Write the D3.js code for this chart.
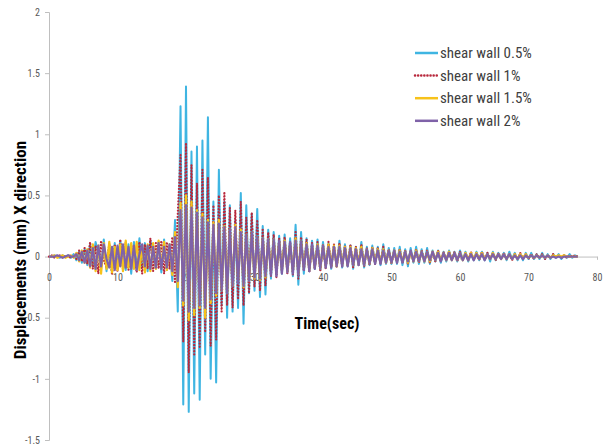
<!DOCTYPE html>
<html>
<head>
<meta charset="utf-8">
<script src="https://cdn.jsdelivr.net/npm/d3@7"></script>
<style>
  body { margin: 0; background: #fff; }
  svg text { font-family: "Liberation Sans Narrow", "Roboto Condensed", "Liberation Sans", sans-serif; }
</style>
</head>
<body>
<div id="chart"></div>
<script>
const width = 605;
const height = 446;

// sampling step of the time histories (sec)
const dt = 0.4;

const seriesNames = ['shear wall 0.5%', 'shear wall 1%', 'shear wall 1.5%', 'shear wall 2%'];
const xTicks = [0, 10, 20, 30, 40, 50, 60, 70, 80];
const yTicks = [-1.5, -1, -0.5, 0, 0.5, 1, 1.5, 2];

// displacement peaks, one value per dt
const wall05 = [
  0,0,0.01,0,-0.01,0.01,0,0.01,-0.01,0.02,
  -0.03,0.04,-0.05,0.06,-0.07,
  0.1,-0.08,0.12,0.03,-0.1,0.14,-0.12,0.09,-0.13,0.11,-0.09,0.13,-0.02,-0.11,0.1,-0.14,0.12,-0.1,0.15,-0.09,0.11,-0.12,0.13,0.02,-0.1,0.12,-0.13,0.14,-0.11,0.1,
  -0.2,0.3,-0.45,
  1.23,-1.21,1.39,-1.27,0.86,-1.12,0.9,-1.17,0.95,-0.8,1.14,-1.0,0.45,-1.03,0.71,-0.4,0.45,-0.5,0.42,-0.45,0.3,-0.42,0.52,-0.55,0.42,-0.3,0.35,-0.28,0.39,-0.33,0.25,-0.31,0.22,
  -0.18,0.2,-0.15,0.17,-0.14,0.18,-0.12,0.15,-0.16,
  0.26,-0.23,0.2,-0.14,0.15,-0.12,0.13,-0.1,0.14,-0.11,
  0.12,-0.09,0.11,-0.1,0.09,-0.08,0.13,-0.09,0.1,-0.08,
  0.09,-0.1,0.08,-0.07,0.12,-0.09,0.08,-0.07,0.09,-0.06,
  0.08,-0.07,0.1,-0.06,0.07,-0.06,
  0.07,-0.06,0.08,-0.07,0.06,-0.08,0.07,-0.05,0.08,-0.06,
  0.06,-0.05,0.07,-0.06,0.05,-0.04,0.05,-0.05,0.04,-0.04,
  0.05,-0.03,0.04,-0.04,0.05,-0.03,0.04,-0.04,0.03,-0.03,
  0.04,-0.03,0.04,-0.03,0.03,-0.04,0.04,-0.03,0.03,-0.02,
  0.03,-0.03,0.04,-0.02,0.03,-0.03,0.02,-0.03,0.03,-0.02,
  0.03,-0.02,0.02,-0.02,0.03,-0.02,0.02,-0.02,0.02,-0.01,
  0.02,-0.02,0.01,-0.01,0.02,-0.01,0.01,0
];

const wall1 = [
  0,0.01,-0.01,0,0.01,-0.01,0.01,0,-0.01,0.01,
  -0.02,0.05,-0.04,0.07,-0.06,
  0.12,-0.1,0.09,-0.14,0.13,-0.03,-0.09,0.11,-0.15,0.1,-0.12,0.14,-0.1,0.12,-0.11,0.09,0.02,-0.13,0.12,-0.14,0.1,-0.1,0.15,-0.12,0.11,-0.1,0.13,-0.14,0.12,-0.1,
  0.16,-0.22,0.35,
  0.83,-0.7,0.93,-0.95,0.75,-0.8,0.6,-0.75,0.71,-0.62,0.65,-0.73,0.42,-0.68,0.5,-0.45,0.53,-0.4,0.4,-0.42,0.38,-0.35,0.45,-0.4,0.32,-0.3,0.36,-0.25,0.3,-0.28,0.22,-0.24,0.2,
  -0.16,0.18,-0.17,0.15,-0.13,0.16,-0.14,0.12,-0.15,0.2,-0.18,0.16,-0.12,0.14,-0.13,0.11,-0.1,0.12,-0.12,0.1,-0.1,0.12,-0.09,0.1,-0.09,0.11,-0.08,0.09,-0.08,0.1,-0.09,0.08,-0.07,0.1,-0.08,0.07,-0.07,0.08,-0.06,0.07,-0.06,0.08,-0.05,0.06,-0.06,
  0.05,-0.05,0.06,-0.05,0.05,-0.06,0.05,-0.04,0.06,-0.05,
  0.05,-0.04,0.05,-0.05,0.04,-0.04,0.05,-0.04,0.04,-0.03,
  0.04,-0.03,0.04,-0.04,0.04,-0.03,0.03,-0.03,0.04,-0.03,
  0.03,-0.03,0.04,-0.03,0.03,-0.02,0.03,-0.03,0.03,-0.02,
  0.03,-0.02,0.02,-0.03,0.02,-0.02,0.03,-0.02,0.02,-0.02,
  0.02,-0.02,0.02,-0.01,0.02,-0.02,0.01,-0.01,0.02,-0.01,
  0.01,-0.01,0.01,-0.01,0.01,0,0.01,0
];

const wall15 = [
  0,0,0.01,-0.01,0,0.01,-0.01,0,0.01,-0.01,
  0.03,-0.04,0.05,-0.05,0.06,
  -0.09,0.1,-0.12,0.09,-0.14,0.11,-0.1,0.12,-0.13,0.08,-0.11,0.1,-0.12,0.13,-0.09,0.11,-0.1,0.12,-0.11,0.09,-0.13,0.1,-0.12,0.11,-0.1,0.13,-0.09,0.12,-0.11,0.1,
  -0.15,0.2,-0.25,
  0.44,-0.4,0.5,-0.52,0.45,-0.48,0.38,-0.42,0.35,-0.5,0.3,-0.38,0.28,-0.32,0.3,-0.28,0.25,-0.3,0.22,-0.24,0.26,-0.2,0.22,-0.25,0.18,-0.2,0.2,-0.18,0.16,-0.19,0.15,-0.17,0.14,
  -0.12,0.14,-0.13,0.12,-0.11,0.13,-0.12,0.1,-0.12,0.15,-0.14,0.12,-0.1,0.11,-0.11,0.09,-0.09,0.1,-0.1,0.09,-0.08,0.1,-0.08,0.09,-0.08,0.09,-0.07,0.08,-0.07,0.08,-0.07,0.07,-0.06,0.08,-0.07,0.06,-0.06,0.07,-0.05,0.06,-0.05,0.06,-0.05,0.05,-0.05,
  0.05,-0.04,0.05,-0.04,0.04,-0.05,0.04,-0.04,0.05,-0.04,
  0.04,-0.04,0.04,-0.04,0.04,-0.03,0.04,-0.03,0.03,-0.03,
  0.04,-0.03,0.03,-0.03,0.03,-0.03,0.03,-0.03,0.03,-0.02,
  0.03,-0.02,0.03,-0.02,0.02,-0.02,0.03,-0.02,0.02,-0.02,
  0.02,-0.02,0.02,-0.02,0.02,-0.02,0.02,-0.01,0.02,-0.01,
  0.01,-0.01,0.01,-0.01,0.01,-0.01,0.01,-0.01,0.01,0,
  0.01,0,0.01,0,0,0,0,0
];

const wall2 = [
  0,0,0,0.01,0,-0.01,0,0.01,0,0,
  0.02,-0.03,0.04,-0.05,0.05,
  -0.08,0.07,-0.1,0.09,-0.08,0.1,-0.02,-0.09,0.08,-0.11,0.09,-0.08,0.1,-0.09,0.08,-0.1,0.09,-0.11,0.02,0.1,-0.08,0.09,-0.1,0.08,-0.09,0.11,-0.1,0.08,-0.09,0.1,
  -0.12,0.16,-0.2,
  0.38,-0.36,0.42,-0.45,0.4,-0.42,0.36,-0.4,0.32,-0.42,0.28,-0.35,0.26,-0.3,0.27,-0.28,0.24,-0.3,0.22,-0.24,0.24,-0.22,0.2,-0.24,0.18,-0.2,0.2,-0.17,0.16,-0.18,0.15,-0.16,0.14,
  -0.15,0.14,-0.16,0.13,-0.14,0.12,-0.13,0.12,-0.14,0.13,-0.15,0.12,-0.11,0.1,-0.12,0.1,-0.1,0.09,-0.1,0.09,-0.09,0.08,-0.09,0.08,-0.08,0.08,-0.08,0.07,-0.08,0.07,-0.07,0.06,-0.07,0.06,-0.07,0.06,-0.06,0.06,-0.06,0.05,-0.06,0.05,-0.05,0.05,-0.05,
  0.05,-0.05,0.04,-0.05,0.04,-0.04,0.05,-0.04,0.04,-0.04,
  0.04,-0.04,0.04,-0.03,0.04,-0.03,0.03,-0.04,0.03,-0.03,
  0.03,-0.03,0.03,-0.03,0.03,-0.03,0.02,-0.03,0.02,-0.03,
  0.02,-0.02,0.02,-0.03,0.02,-0.02,0.02,-0.02,0.02,-0.02,
  0.02,-0.02,0.02,-0.02,0.01,-0.02,0.01,-0.02,0.01,-0.01,
  0.01,-0.01,0.01,-0.01,0.01,-0.01,0.01,-0.01,0,-0.01,
  0,-0.01,0,0,0,0,0,0
];

const seriesValues = [wall05, wall1, wall15, wall2];
const colors = ['#3fb5e2', '#b8283c', '#f7c21a', '#7f62a8'];

let svg = d3.select('#chart')
    .append('svg')
    .attr('width', width)
    .attr('height', height);

let x = d3.scaleLinear().domain([0, 80]).range([49, 597]);
let y = d3.scaleLinear().domain([-1.5, 2]).range([440, 12]);

// y axis
let yAxis = svg.append('g')
    .attr('transform', `translate(${x(0)},0)`)
    .call(d3.axisLeft(y).tickValues(yTicks).tickSize(4).tickPadding(5).tickFormat(d => String(d)));
yAxis.select('.domain').attr('stroke', '#bfbfbf');
yAxis.selectAll('.tick line').attr('stroke', '#bfbfbf');
yAxis.selectAll('.tick text').attr('fill', '#595959').style('font-size', '10px');

// x axis crossing at zero
let xAxis = svg.append('g')
    .attr('transform', `translate(0,${y(0)})`)
    .call(d3.axisBottom(x).tickValues(xTicks).tickSize(3).tickPadding(14));
xAxis.select('.domain').attr('stroke', '#bfbfbf');
xAxis.selectAll('.tick line').attr('stroke', '#bfbfbf');
xAxis.selectAll('.tick text').attr('fill', '#595959').style('font-size', '10px');

let line = d3.line()
    .x((d, i) => x(i * dt))
    .y(d => y(d));

svg.selectAll('path.series')
    .data(seriesValues)
    .enter()
    .append('path')
    .attr('class', 'series')
    .attr('d', line)
    .attr('fill', 'none')
    .attr('stroke', (d, i) => colors[i])
    .attr('stroke-width', (d, i) => i === 0 ? 2 : 2.2)
    .attr('stroke-linejoin', 'round')
    .attr('stroke-linecap', (d, i) => i === 1 ? 'round' : 'butt')
    .attr('stroke-dasharray', (d, i) => i === 1 ? '0.1,3' : null);

// legend
let legend = svg.append('g').attr('transform', 'translate(415,53)');
let rows = legend.selectAll('g')
    .data(seriesNames)
    .enter()
    .append('g')
    .attr('transform', (d, i) => `translate(0,${i * 22.6})`);
rows.append('line')
    .attr('x1', 0).attr('x2', 23)
    .attr('stroke', (d, i) => colors[i])
    .attr('stroke-width', 2.5)
    .attr('stroke-linecap', (d, i) => i === 1 ? 'round' : 'butt')
    .attr('stroke-dasharray', (d, i) => i === 1 ? '0.1,3' : null);
rows.append('text')
    .attr('x', 25)
    .attr('dy', '0.35em')
    .attr('fill', '#404040')
    .style('font-size', '15px')
    .text(d => d);

// titles
svg.append('text')
    .attr('transform', 'translate(20,250) rotate(-90)')
    .attr('text-anchor', 'middle')
    .attr('dy', '0.35em')
    .style('font-size', '17px')
    .style('font-weight', 'bold')
    .text('Displacements (mm) X direction');

svg.append('text')
    .attr('x', 327)
    .attr('y', 323)
    .attr('text-anchor', 'middle')
    .attr('dy', '0.35em')
    .style('font-size', '16px')
    .style('font-weight', 'bold')
    .text('Time(sec)');
</script>
</body>
</html>
